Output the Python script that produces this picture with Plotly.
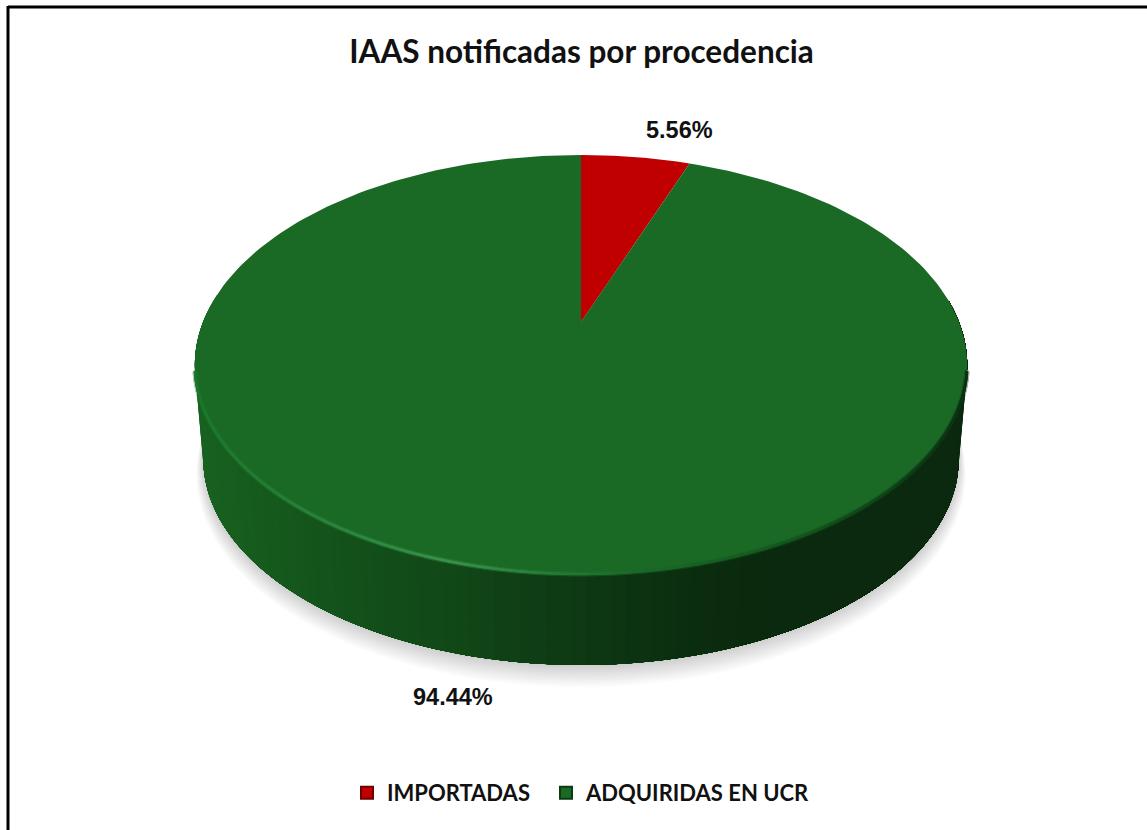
import numpy as np
import plotly.graph_objects as go

CATEGORIES = ["IMPORTADAS", "ADQUIRIDAS EN UCR"]
SHARES = [5.56, 94.44]
LABELS = ["5.56%", "94.44%"]
TITLE = "IAAS notificadas por procedencia"
TOP_COLORS = ["#c00000", "#1a6a26"]
EDGE_COLORS = ["#6e0000", "#0c3a12"]

W, H = 1147, 830
CX, APEX_Y = 581.0, 322.0
RX, AY, PERSP = 378.0, 201.2, 0.2048
DEPTH_Y, SHRINK = 95.0, 0.978


def rim(deg, grow=0.0, bottom=False):
    t = np.radians(deg)
    u, v = np.sin(t), np.cos(t)
    d = 1 + PERSP * v
    x, y = (RX + grow) * u / d, -(AY + grow) * v / d
    if bottom:
        return CX + x * SHRINK, APEX_Y + DEPTH_Y + y * 0.98
    return CX + x, APEX_Y + y


def mix(stops, p):
    xs = [s[0] for s in stops]
    return [float(np.interp(p, xs, [s[1][i] for s in stops])) for i in range(3)]


def rgb(c):
    return "rgb(%d,%d,%d)" % tuple(round(k) for k in c)


SIDE_STOPS = [(190, (24, 98, 33)), (300, (20, 85, 27)), (440, (17, 72, 24)),
              (520, (15, 62, 21)), (600, (13, 54, 18)), (700, (11, 44, 15)),
              (770, (10, 41, 14)), (980, (10, 41, 14))]

fig = go.Figure()


def poly(x, y, color, line=0):
    fig.add_trace(go.Scatter(x=x, y=y, mode="lines", fill="toself", fillcolor=color,
                             line=dict(color=color, width=line), showlegend=False,
                             hoverinfo="skip"))


# soft shadow below the disc
for e in np.arange(16, 0, -1):
    th = np.linspace(0, 360, 181)
    sx, sy = rim(th, grow=e * 0.45, bottom=True)
    poly(sx, sy + e * 0.85, "rgba(0,0,0,0.0115)")

# side wall, painted left to right so neighbouring strips leave no seams
edges = np.linspace(278, 84, 121)
for a0 in edges[:-1]:
    th = np.linspace(a0, 84, max(3, int((a0 - 84) / 2)))
    tx, ty = rim(th)
    bx, by = rim(th[::-1], bottom=True)
    c = mix(SIDE_STOPS, float(tx[0]))
    poly(np.r_[tx, bx], np.r_[ty, by], rgb(c))

# top face, one slice per share, from the shares
total = sum(SHARES)
start = 0.0
for share, col in zip(SHARES, TOP_COLORS):
    sweep = 360.0 * share / total
    th = np.linspace(start, start + sweep, 241)
    x, y = rim(th)
    poly(np.r_[CX, x, CX], np.r_[APEX_Y, y, APEX_Y], col)
    start += sweep

# lit bevel on the front-left rim, dark edge on the right
RIM_STOPS = [(190, (28, 118, 42)), (300, (38, 130, 55)), (450, (58, 146, 76)),
             (560, (38, 122, 52)), (640, (26, 106, 38)), (800, (20, 84, 30)),
             (960, (12, 52, 20)), (975, (12, 52, 20))]
th = np.linspace(104, 256, 900)
rx_, ry_ = rim(th)
rim_colors = [rgb(mix(RIM_STOPS, v)) for v in rx_]
fig.add_trace(go.Scatter(x=rx_, y=ry_ - 1, mode="markers", showlegend=False, hoverinfo="skip",
                         opacity=0.35, marker=dict(size=5, color=rim_colors, line=dict(width=0))))
fig.add_trace(go.Scatter(x=rx_, y=ry_ - 1, mode="markers", showlegend=False, hoverinfo="skip",
                         marker=dict(size=2.8, color=rim_colors, line=dict(width=0))))

# legend entries, each in its own legend so both can sit where the picture has them
for i, (name, col, edge) in enumerate(zip(CATEGORIES, TOP_COLORS, EDGE_COLORS)):
    fig.add_trace(go.Scatter(x=[None], y=[None], mode="markers", name=name,
                             legend="legend" if i == 0 else "legend2",
                             marker=dict(symbol="square", size=14, color=col,
                                         line=dict(color=edge, width=1.5))))

FONT = "Lato"
ANN = [(679, 130), (453, 697)]
annotations = [dict(x=px, y=py, xref="x", yref="y", text=t, showarrow=False,
                    font=dict(family="Liberation Sans", size=23.5, color="#111111", weight="bold"))
               for (px, py), t in zip(ANN, LABELS)]

legend_style = dict(orientation="h", xanchor="left", y=1 - 793 / H, yanchor="middle",
                    font=dict(family=FONT, size=22, color="#111111", weight="bold"),
                    itemsizing="constant", bgcolor="rgba(0,0,0,0)")

fig.update_layout(
    width=W, height=H, margin=dict(l=0, r=0, t=0, b=0),
    paper_bgcolor="white", plot_bgcolor="white",
    title=dict(text=TITLE, x=581.5 / W, xanchor="center", y=1 - 52 / H, yanchor="middle",
               font=dict(family=FONT, size=31.5, color="#111111", weight="bold")),
    xaxis=dict(range=[0, W], visible=False, fixedrange=True),
    yaxis=dict(range=[H, 0], visible=False, fixedrange=True),
    annotations=annotations,
    shapes=[dict(type="line", xref="x", yref="y", x0=8, x1=W, y0=7, y1=7,
                 line=dict(color="black", width=3)),
            dict(type="line", xref="x", yref="y", x0=8, x1=8, y0=6, y1=H,
                 line=dict(color="black", width=3))],
    legend=dict(x=347 / W, **legend_style),
    legend2=dict(x=546 / W, **legend_style),
)

fig.write_html("out.html", config=dict(displayModeBar=False),
               post_script="document.body.style.margin='0';")
